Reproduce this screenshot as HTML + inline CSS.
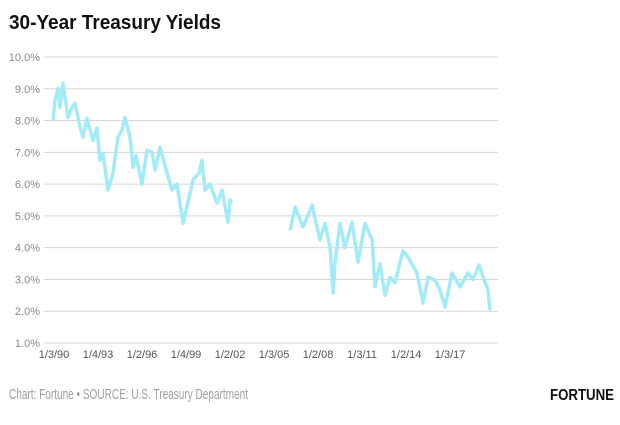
<!DOCTYPE html>
<html><head><meta charset="utf-8"><style>
body{margin:0;background:#fff;width:620px;height:420px;overflow:hidden;font-family:"Liberation Sans",sans-serif}
</style></head><body>
<svg width="620" height="420" id="chart">
<text x="9" y="29" font-size="20" font-weight="bold" fill="#111" textLength="212" lengthAdjust="spacingAndGlyphs">30-Year Treasury Yields</text>
<g id="grid"></g><g id="ylabels"></g><g id="xlabels"></g><g id="series"></g>
<text x="9" y="399" font-size="15" fill="#a0a0a0" textLength="239" lengthAdjust="spacingAndGlyphs">Chart: Fortune • SOURCE: U.S. Treasury Department</text>
<text x="550" y="400" font-size="16" font-weight="bold" fill="#111" textLength="64" lengthAdjust="spacingAndGlyphs">FORTUNE</text>
</svg>
<script>
const yTicks=[1,2,3,4,5,6,7,8,9,10];
const xTickYears=[1990,1993,1996,1999,2002,2005,2008,2011,2014,2017];
const xTickLabels=["1/3/90","1/4/93","1/2/96","1/4/99","1/2/02","1/3/05","1/2/08","1/3/11","1/2/14","1/3/17"];
const seg1Years=[1990.0,1990.14,1990.34,1990.48,1990.68,1991.02,1991.3,1991.5,1991.84,1992.05,1992.32,1992.73,1993.0,1993.2,1993.41,1993.75,1994.09,1994.43,1994.7,1994.91,1995.25,1995.45,1995.66,1996.07,1996.41,1996.75,1996.95,1997.3,1997.77,1998.11,1998.45,1998.86,1999.13,1999.54,1999.95,2000.16,2000.36,2000.7,2001.18,2001.52,2001.93,2002.07,2002.2];
const seg1Values=[8.02,8.64,9.02,8.42,9.18,8.1,8.42,8.55,7.79,7.48,8.07,7.38,7.76,6.75,6.97,5.81,6.35,7.48,7.7,8.1,7.48,6.53,6.9,6.0,7.07,7.0,6.44,7.16,6.35,5.81,6.0,4.77,5.28,6.13,6.35,6.75,5.81,6.0,5.4,5.81,4.8,5.5,5.4];
const seg2Years=[2006.16,2006.5,2007.04,2007.66,2008.2,2008.54,2008.88,2009.09,2009.22,2009.56,2009.9,2010.38,2010.79,2011.27,2011.75,2011.95,2012.29,2012.63,2012.97,2013.31,2013.86,2014.2,2014.81,2015.22,2015.56,2016.04,2016.38,2016.72,2017.2,2017.74,2018.29,2018.63,2019.04,2019.38,2019.65,2019.79];
const seg2Values=[4.55,5.28,4.65,5.34,4.24,4.77,4.02,2.57,3.5,4.77,4.0,4.8,3.55,4.77,4.24,2.77,3.5,2.5,3.07,2.9,3.9,3.7,3.2,2.26,3.07,2.98,2.67,2.13,3.2,2.77,3.2,3.0,3.45,3.0,2.67,2.04];
const NS="http://www.w3.org/2000/svg";
const yS=v=>343-(v-1)*(286/9);
const xS=yr=>53+(yr-1990)*14.67;
function mk(t,a,p){const e=document.createElementNS(NS,t);for(const k in a)e.setAttribute(k,a[k]);document.getElementById(p).appendChild(e);return e;}
yTicks.forEach(v=>{
 const l=mk('line',{x1:44,x2:498,y1:yS(v),y2:yS(v),stroke:'#d6d6d6','stroke-width':1},'grid');
 
 
 const t=mk('text',{x:40,y:yS(v)+4,'text-anchor':'end','font-size':11,fill:'#8a8a8a'},'ylabels');
 t.textContent=v.toFixed(1)+'%';
 
 
});
xTickYears.forEach((yr,i)=>{
 const t=mk('text',{x:xS(yr)+1,y:358,'text-anchor':'middle','font-size':11,fill:'#555'},'xlabels');
 t.textContent=xTickLabels[i];
 
 
});
[[seg1Years,seg1Values],[seg2Years,seg2Values]].forEach(([ys,vs])=>{
 const d=ys.map((y,i)=>(i?'L':'M')+xS(y).toFixed(1)+','+yS(vs[i]).toFixed(1)).join('');
 const p=mk('path',{d:d,fill:'none',stroke:'#a3ebf9','stroke-width':3.5,'stroke-linejoin':'round'},'series');
 
 
});
</script>
</body></html>
